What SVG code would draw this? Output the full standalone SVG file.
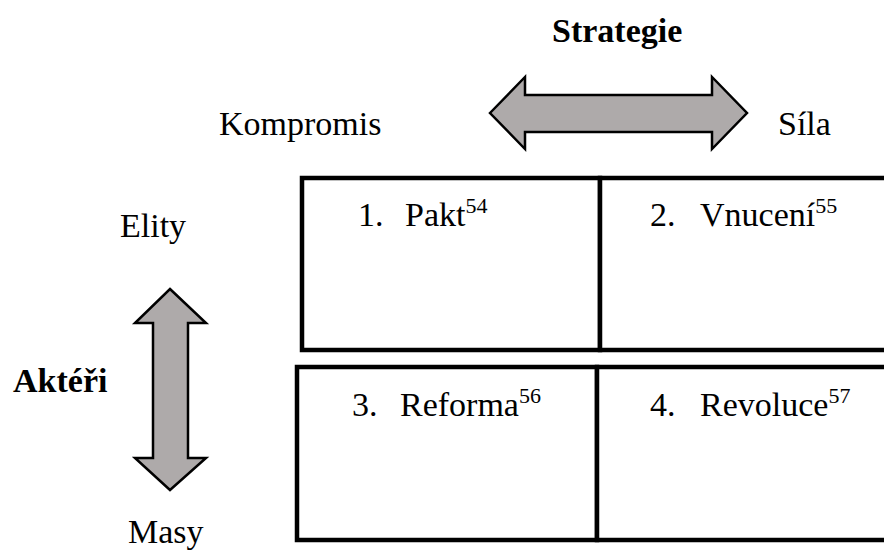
<svg xmlns="http://www.w3.org/2000/svg" width="884" height="550" viewBox="0 0 884 550">
<style>
text{font-family:'Liberation Serif','Times New Roman',Tinos,serif;font-size:34px;fill:#000}
.b{font-weight:bold}
.sup{font-size:22px}
.arrow{fill:#aeaaaa;stroke:#000;stroke-width:2.5;stroke-linejoin:miter}
.box{fill:#fff;stroke:#000;stroke-width:4.5}
</style>
<rect width="884" height="550" fill="#fff"/>
<g id="labels">
<text class="b" x="552" y="42">Strategie</text>
<text x="219" y="135">Kompromis</text>
<text x="778" y="135">Síla</text>
<text x="120" y="237">Elity</text>
<text class="b" x="13" y="392">Aktéři</text>
<text x="128" y="543">Masy</text>
</g>
<g id="connectors">
<polygon class="arrow" points="490,113 525,77 525,95 712,95 712,77 747,113 712,149 712,132 525,132 525,149"/>
<polygon class="arrow" points="170,289 206,323 188,323 188,458 206,458 170,490 135,458 153,458 153,323 135,323"/>
</g>
<g id="pakt">
<rect class="box" x="302" y="178" width="298" height="172"/>
<text x="358" y="226">1.</text>
<text x="405" y="226">Pakt<tspan class="sup" dy="-13">54</tspan></text>
</g>
<g id="vnuceni">
<rect class="box" x="600" y="178" width="290" height="172"/>
<text x="650" y="226">2.</text>
<text x="700" y="226">Vnucení<tspan class="sup" dy="-13">55</tspan></text>
</g>
<g id="reforma">
<rect class="box" x="297" y="367" width="300" height="173"/>
<text x="352" y="416">3.</text>
<text x="400" y="416">Reforma<tspan class="sup" dy="-13">56</tspan></text>
</g>
<g id="revoluce">
<rect class="box" x="597" y="367" width="293" height="173"/>
<text x="650" y="416">4.</text>
<text x="700" y="416">Revoluce<tspan class="sup" dy="-13">57</tspan></text>
</g>
</svg>
